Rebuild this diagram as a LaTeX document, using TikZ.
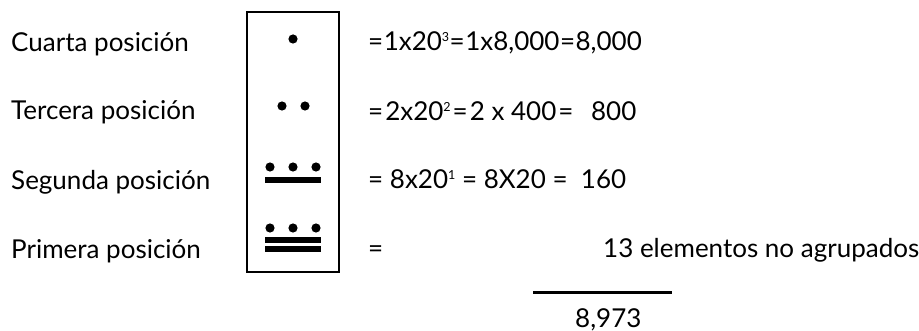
\documentclass[tikz,border=0pt]{standalone}
\usepackage{fontspec}
\setmainfont{Lato}
\newcommand{\supx}[1]{\raisebox{9.5pt}{\fontsize{12.5}{12.5}\selectfont #1}}
\begin{document}
\begin{tikzpicture}[x=1pt,y=-1pt,
  lbl/.style={anchor=base west,inner sep=0pt,font=\fontsize{26}{30}\selectfont},
  eqn/.style={anchor=base west,inner sep=0pt,font=\fontsize{26}{30}\selectfont},
  dot/.style={fill=black,draw=none},
  bar/.style={fill=black,draw=none}]
\useasboundingbox (0,0) rectangle (919,331);
% labels
\node[lbl] (l4) at (11,52) {Cuarta posición};
\node[lbl] (l3) at (11,120) {Tercera posición};
\node[lbl] (l2) at (11,190) {Segunda posición};
\node[lbl] (l1) at (11,259) {Primera posición};
% box
\draw[line width=1.8pt] (247,12) rectangle (339,272);
% glyphs
\fill[dot] (293,39) circle (4.6);
\fill[dot] (282,106) circle (4.6);
\fill[dot] (305,106) circle (4.6);
\fill[dot] (270,167) circle (4.6);
\fill[dot] (293,167) circle (4.6);
\fill[dot] (316,167) circle (4.6);
\fill[bar] (265,177) rectangle (321,183);
\fill[dot] (270,228) circle (4.6);
\fill[dot] (293,228) circle (4.6);
\fill[dot] (316,228) circle (4.6);
\fill[bar] (265,237) rectangle (321,243);
\fill[bar] (265,246.5) rectangle (321,252.5);
% equations
\node[eqn] (e4) at (368,51) {=\kern0.5pt1x20\supx{3}\kern0.5pt=\kern0.5pt1x8,000\kern0.5pt=\kern0.5pt8,000};
\node[eqn] (e3) at (368,121) {=\kern2pt2x20\supx{2}\kern2pt=\kern2pt2 x 400\kern2pt=\ \ \,800};
\node[eqn] (e2) at (368,189) {= 8x20\supx{1} = 8X20 =\ \ 160};
\node[eqn] (e1) at (368,258) {=};
\node[eqn] (r1) at (603,258) {13 elementos no agrupados};
\draw[line width=3pt] (533,293) -- (672,293);
\node[eqn] (tot) at (575,327) {8,973};
\end{tikzpicture}
\end{document}
